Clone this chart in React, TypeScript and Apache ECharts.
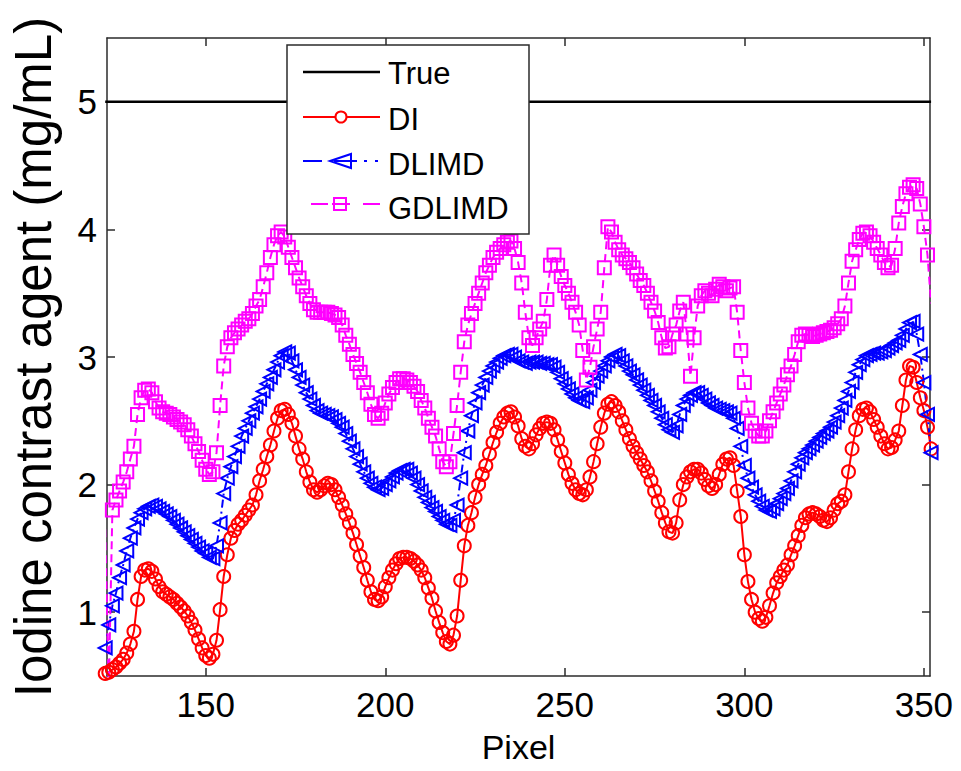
import React, { useEffect, useRef } from 'react';
import * as echarts from 'echarts';

// Pixel index of the first sample; one sample per pixel.
const PIXEL_START = 122;

const SERIES_NAMES = ['True', 'DI', 'DLIMD', 'GDLIMD'];
const TRUE_VALUE = 5;

const DI = [
  0.52, 0.53, 0.55, 0.57, 0.60, 0.63, 0.68, 0.75, 0.85, 1.10,
  1.28, 1.33, 1.34, 1.32, 1.26, 1.20, 1.16, 1.14, 1.12, 1.10,
  1.07, 1.04, 1.01, 0.97, 0.92, 0.86, 0.79, 0.72, 0.66, 0.64,
  0.67, 0.78, 1.02, 1.28, 1.45, 1.58, 1.64, 1.69, 1.72, 1.76,
  1.80, 1.84, 1.92, 2.03, 2.12, 2.22, 2.31, 2.42, 2.52, 2.58,
  2.59, 2.55, 2.48, 2.38, 2.28, 2.20, 2.10, 2.02, 1.96, 1.94,
  1.96, 1.99, 2.01, 2.00, 1.96, 1.90, 1.84, 1.77, 1.70, 1.62,
  1.53, 1.44, 1.35, 1.25, 1.16, 1.10, 1.09, 1.12, 1.20, 1.27,
  1.33, 1.38, 1.42, 1.43, 1.43, 1.42, 1.40, 1.37, 1.33, 1.27,
  1.19, 1.11, 1.01, 0.92, 0.84, 0.77, 0.75, 0.82, 0.97, 1.25,
  1.52, 1.68, 1.78, 1.90, 2.00, 2.08, 2.15, 2.24, 2.33, 2.41,
  2.48, 2.53, 2.56, 2.57, 2.53, 2.46, 2.36, 2.30, 2.28, 2.32,
  2.39, 2.44, 2.48, 2.49, 2.48, 2.43, 2.35, 2.26, 2.17, 2.08,
  2.01, 1.96, 1.93, 1.92, 1.96, 2.06, 2.18, 2.32, 2.45, 2.56,
  2.63, 2.65, 2.62, 2.57, 2.50, 2.43, 2.36, 2.30, 2.25, 2.20,
  2.15, 2.10, 2.03, 1.95, 1.87, 1.78, 1.70, 1.63, 1.62, 1.70,
  1.88, 2.00, 2.06, 2.10, 2.12, 2.12, 2.09, 2.04, 1.99, 1.97,
  2.00, 2.08, 2.16, 2.20, 2.21, 2.15, 1.95, 1.75, 1.45, 1.24,
  1.10, 1.00, 0.95, 0.93, 0.96, 1.05, 1.15, 1.23, 1.28, 1.33,
  1.37, 1.45, 1.52, 1.60, 1.68, 1.74, 1.77, 1.78, 1.77, 1.75,
  1.72, 1.71, 1.74, 1.80, 1.85, 1.87, 1.92, 2.10, 2.28, 2.43,
  2.54, 2.59, 2.60, 2.57, 2.51, 2.45, 2.38, 2.32, 2.28, 2.29,
  2.35, 2.42, 2.62, 2.82, 2.93, 2.92, 2.80, 2.68, 2.58, 2.45,
  2.28,
];

const DLIMD = [
  0.72, 0.90, 1.05, 1.15, 1.27, 1.37, 1.48, 1.58, 1.66, 1.73,
  1.78, 1.81, 1.83, 1.84, 1.83, 1.81, 1.79, 1.77, 1.75, 1.72,
  1.69, 1.66, 1.63, 1.60, 1.57, 1.54, 1.51, 1.48, 1.46, 1.43,
  1.42, 1.52, 1.70, 1.93, 2.05, 2.14, 2.22, 2.30, 2.38, 2.44,
  2.50, 2.56, 2.61, 2.67, 2.73, 2.79, 2.84, 2.90, 2.96, 3.01,
  3.04, 3.03, 2.97, 2.90, 2.84, 2.78, 2.72, 2.67, 2.62, 2.58,
  2.56, 2.55, 2.54, 2.53, 2.51, 2.48, 2.45, 2.40, 2.34, 2.28,
  2.22, 2.16, 2.10, 2.05, 2.01, 1.98, 1.96, 1.97, 2.00, 2.03,
  2.06, 2.09, 2.11, 2.12, 2.12, 2.09, 2.05, 2.00, 1.95, 1.90,
  1.86, 1.82, 1.79, 1.75, 1.72, 1.69, 1.68, 1.72, 1.84, 2.05,
  2.25, 2.42, 2.54, 2.64, 2.72, 2.78, 2.84, 2.89, 2.93, 2.96,
  2.99, 3.01, 3.02, 3.02, 3.00, 2.97, 2.96, 2.95, 2.96, 2.96,
  2.96, 2.95, 2.95, 2.94, 2.94, 2.92, 2.88, 2.83, 2.79, 2.75,
  2.71, 2.68, 2.66, 2.65, 2.68, 2.74, 2.80, 2.85, 2.89, 2.93,
  2.97, 3.00, 3.02, 3.01, 2.97, 2.93, 2.89, 2.86, 2.82, 2.78,
  2.74, 2.70, 2.66, 2.62, 2.57, 2.52, 2.47, 2.43, 2.41, 2.46,
  2.55, 2.62, 2.67, 2.70, 2.72, 2.72, 2.70, 2.67, 2.64, 2.62,
  2.60, 2.59, 2.58, 2.57, 2.56, 2.52, 2.44, 2.30, 2.15, 2.05,
  1.98, 1.92, 1.87, 1.83, 1.80, 1.79, 1.81, 1.85, 1.89, 1.93,
  1.97, 2.03, 2.10, 2.16, 2.21, 2.25, 2.28, 2.31, 2.34, 2.37,
  2.40, 2.42, 2.45, 2.49, 2.54, 2.60, 2.66, 2.73, 2.80, 2.88,
  2.94, 2.98, 3.01, 3.02, 3.03, 3.03, 3.04, 3.05, 3.07, 3.09,
  3.11, 3.13, 3.17, 3.22, 3.27, 3.28, 3.18, 3.02, 2.80, 2.55,
  2.25,
];

const GDLIMD = [
  1.65, 0.40, 1.80, 1.88, 1.95, 2.02, 2.10, 2.20, 2.30, 2.55,
  2.68, 2.74, 2.75, 2.72, 2.65, 2.60, 2.57, 2.56, 2.55, 2.53,
  2.51, 2.49, 2.47, 2.43, 2.38, 2.32, 2.26, 2.19, 2.12, 2.08,
  2.10, 2.25, 2.62, 2.93, 3.08, 3.15, 3.19, 3.22, 3.25, 3.28,
  3.30, 3.34, 3.40, 3.45, 3.55, 3.66, 3.78, 3.88, 3.95, 3.98,
  3.94, 3.86, 3.78, 3.70, 3.62, 3.55, 3.48, 3.42, 3.37, 3.35,
  3.35, 3.35, 3.35, 3.34, 3.33, 3.31, 3.25, 3.17, 3.10, 3.02,
  2.95, 2.88, 2.80, 2.72, 2.63, 2.55, 2.52, 2.56, 2.64, 2.71,
  2.76, 2.80, 2.83, 2.83, 2.82, 2.80, 2.77, 2.73, 2.66, 2.60,
  2.52, 2.45, 2.38, 2.28, 2.18, 2.14, 2.18, 2.40, 2.62, 2.88,
  3.12, 3.25, 3.34, 3.42, 3.50, 3.58, 3.66, 3.72, 3.78, 3.82,
  3.85, 3.88, 3.90, 3.91, 3.85, 3.74, 3.58, 3.35, 3.15, 3.09,
  3.15, 3.22, 3.28, 3.45, 3.72, 3.80, 3.72, 3.63, 3.56, 3.50,
  3.43, 3.35, 3.25, 3.05, 2.82, 2.92, 3.08, 3.22, 3.35, 3.70,
  4.02, 3.98, 3.90, 3.84, 3.80, 3.77, 3.74, 3.70, 3.65, 3.60,
  3.56, 3.50, 3.43, 3.36, 3.27, 3.15, 3.07, 3.08, 3.18, 3.25,
  3.36, 3.43, 3.18, 2.85, 3.15, 3.40, 3.48, 3.52, 3.50, 3.48,
  3.53, 3.57, 3.55, 3.52, 3.54, 3.55, 3.35, 3.05, 2.80, 2.60,
  2.48, 2.42, 2.38, 2.38, 2.42, 2.50, 2.57, 2.64, 2.71, 2.78,
  2.86, 2.93, 3.02, 3.12, 3.17, 3.18, 3.17, 3.16, 3.17, 3.18,
  3.19, 3.20, 3.21, 3.23, 3.26, 3.30, 3.40, 3.58, 3.75, 3.84,
  3.92, 3.97, 3.98, 3.95, 3.90, 3.85, 3.80, 3.74, 3.70, 3.72,
  3.85, 4.05, 4.18, 4.28, 4.33, 4.35, 4.32, 4.20, 4.02, 3.80,
  3.42,
];

const X_MIN = 122.5;
const X_MAX = 351.7;
const Y_MIN = 0.5;
const Y_MAX = 5.5;
const X_TICKS = [150, 200, 250, 300, 350];
const Y_TICKS = [1, 2, 3, 4, 5];

const FONT = '"Liberation Sans", Arial, Helvetica, sans-serif';
const AXIS_COLOR = '#2b2b2b';

const toPoints = (vals: number[]) => vals.map((v, i) => [PIXEL_START + i, v]);

export default function App() {
  const ref = useRef<HTMLDivElement>(null);

  useEffect(() => {
    if (!ref.current) return;
    const chart = echarts.init(ref.current, null, { renderer: 'svg' });

    const axisLine = { show: true, onZero: false, lineStyle: { color: AXIS_COLOR, width: 1.5 } };
    const tick = (vals: number[]) => ({
      show: true,
      inside: true,
      length: 8,
      customValues: vals,
      lineStyle: { color: AXIS_COLOR, width: 1.5 },
    });

    const xBase = {
      type: 'value',
      min: X_MIN,
      max: X_MAX,
      axisLine,
      axisTick: tick(X_TICKS),
      splitLine: { show: false },
    };
    const yBase = {
      type: 'value',
      min: Y_MIN,
      max: Y_MAX,
      axisLine,
      axisTick: tick(Y_TICKS),
      splitLine: { show: false },
    };

    const firstX = PIXEL_START;
    const lastX = PIXEL_START + DI.length - 1;

    const legendText = (text: string, y: number) => ({
      type: 'text',
      x: 388,
      y,
      z: 102,
      style: {
        text,
        fontSize: 31,
        fontFamily: FONT,
        fill: '#000',
        align: 'left',
        verticalAlign: 'middle',
        textAlign: 'left',
        textVerticalAlign: 'middle',
      },
    });

    const MARK = 13;
    const STROKE = 2;

    chart.setOption({
      animation: false,
      backgroundColor: '#ffffff',
      textStyle: { fontFamily: FONT },
      grid: { left: 107, right: 31, top: 38, bottom: 95, containLabel: false },
      xAxis: [
        {
          ...xBase,
          position: 'bottom',
          axisLabel: {
            show: true,
            customValues: X_TICKS,
            fontSize: 35,
            color: '#000',
            fontFamily: FONT,
            margin: 11,
          },
          name: 'Pixel',
          nameLocation: 'middle',
          nameGap: 54,
          nameTextStyle: { fontSize: 34, color: '#000', fontFamily: FONT },
        },
        {
          ...xBase,
          position: 'top',
          axisLabel: { show: false },
        },
      ],
      yAxis: [
        {
          ...yBase,
          position: 'left',
          axisLabel: {
            show: true,
            customValues: Y_TICKS,
            fontSize: 35,
            color: '#000',
            fontFamily: FONT,
            margin: 10,
          },
          name: 'Iodine contrast agent (mg/mL)',
          nameLocation: 'middle',
          nameGap: 48,
          nameTextStyle: { fontSize: 51, color: '#000', fontFamily: FONT },
        },
        {
          ...yBase,
          position: 'right',
          axisLabel: { show: false },
        },
      ],
      series: [
        {
          name: SERIES_NAMES[0],
          type: 'line',
          data: [
            [firstX, TRUE_VALUE],
            [lastX, TRUE_VALUE],
          ],
          symbol: 'none',
          clip: true,
          lineStyle: { color: '#000', width: 2.5 },
          emphasis: { disabled: true },
        },
        {
          name: SERIES_NAMES[1],
          type: 'line',
          data: toPoints(DI),
          symbol: 'circle',
          symbolSize: MARK,
          showSymbol: true,
          showAllSymbol: true,
          clip: false,
          lineStyle: { color: '#ff0000', width: 2 },
          itemStyle: { color: 'rgba(255,255,255,0)', borderColor: '#ff0000', borderWidth: STROKE },
          emphasis: { disabled: true },
        },
        {
          name: SERIES_NAMES[2],
          type: 'line',
          data: toPoints(DLIMD),
          symbol: 'path://M0,5L10,0L10,10Z',
          symbolSize: MARK,
          showSymbol: true,
          showAllSymbol: true,
          clip: false,
          lineStyle: { color: '#0000ff', width: 2, type: [8, 4, 2, 4] },
          itemStyle: { color: 'rgba(255,255,255,0)', borderColor: '#0000ff', borderWidth: STROKE },
          emphasis: { disabled: true },
        },
        {
          name: SERIES_NAMES[3],
          type: 'line',
          data: toPoints(GDLIMD),
          symbol: 'rect',
          symbolSize: MARK,
          showSymbol: true,
          showAllSymbol: true,
          clip: true,
          lineStyle: { color: '#ff00ff', width: 2, type: [8, 5] },
          itemStyle: { color: 'rgba(255,255,255,0)', borderColor: '#ff00ff', borderWidth: STROKE },
          emphasis: { disabled: true },
        },
      ],
      graphic: [
        {
          type: 'rect',
          z: 100,
          shape: { x: 287, y: 45, width: 242, height: 189 },
          style: { fill: '#ffffff', stroke: AXIS_COLOR, lineWidth: 1.5 },
        },
        // True
        {
          type: 'line',
          z: 101,
          shape: { x1: 303, y1: 72, x2: 380, y2: 72 },
          style: { stroke: '#000', lineWidth: 2.5 },
        },
        legendText(SERIES_NAMES[0], 73),
        // DI
        {
          type: 'line',
          z: 101,
          shape: { x1: 303, y1: 117, x2: 380, y2: 117 },
          style: { stroke: '#ff0000', lineWidth: 2 },
        },
        {
          type: 'circle',
          z: 101,
          shape: { cx: 341, cy: 117, r: 5.5 },
          style: { fill: '#ffffff', stroke: '#ff0000', lineWidth: 2 },
        },
        legendText(SERIES_NAMES[1], 119),
        // DLIMD
        {
          type: 'line',
          z: 101,
          shape: { x1: 303, y1: 161, x2: 322, y2: 161 },
          style: { stroke: '#0000ff', lineWidth: 2 },
        },
        {
          type: 'line',
          z: 101,
          shape: { x1: 334, y1: 161, x2: 357, y2: 161 },
          style: { stroke: '#0000ff', lineWidth: 2 },
        },
        {
          type: 'line',
          z: 101,
          shape: { x1: 364, y1: 161, x2: 367, y2: 161 },
          style: { stroke: '#0000ff', lineWidth: 2 },
        },
        {
          type: 'line',
          z: 101,
          shape: { x1: 375, y1: 161, x2: 378, y2: 161 },
          style: { stroke: '#0000ff', lineWidth: 2 },
        },
        {
          type: 'polygon',
          z: 101,
          shape: { points: [[330, 161], [351, 154], [351, 168]] },
          style: { fill: 'none', stroke: '#0000ff', lineWidth: 2 },
        },
        legendText(SERIES_NAMES[2], 164),
        // GDLIMD
        {
          type: 'line',
          z: 101,
          shape: { x1: 311, y1: 204, x2: 328, y2: 204 },
          style: { stroke: '#ff00ff', lineWidth: 2 },
        },
        {
          type: 'line',
          z: 101,
          shape: { x1: 332, y1: 204, x2: 350, y2: 204 },
          style: { stroke: '#ff00ff', lineWidth: 2 },
        },
        {
          type: 'line',
          z: 101,
          shape: { x1: 363, y1: 204, x2: 380, y2: 204 },
          style: { stroke: '#ff00ff', lineWidth: 2 },
        },
        {
          type: 'rect',
          z: 101,
          shape: { x: 334, y: 198, width: 12, height: 12 },
          style: { fill: 'none', stroke: '#ff00ff', lineWidth: 2 },
        },
        legendText(SERIES_NAMES[3], 208),
      ],
    });

    return () => {
      chart.dispose();
    };
  }, []);

  return (
    <div
      ref={ref}
      style={{ position: 'fixed', left: 0, top: 0, width: 961, height: 771, background: '#fff' }}
    />
  );
}
